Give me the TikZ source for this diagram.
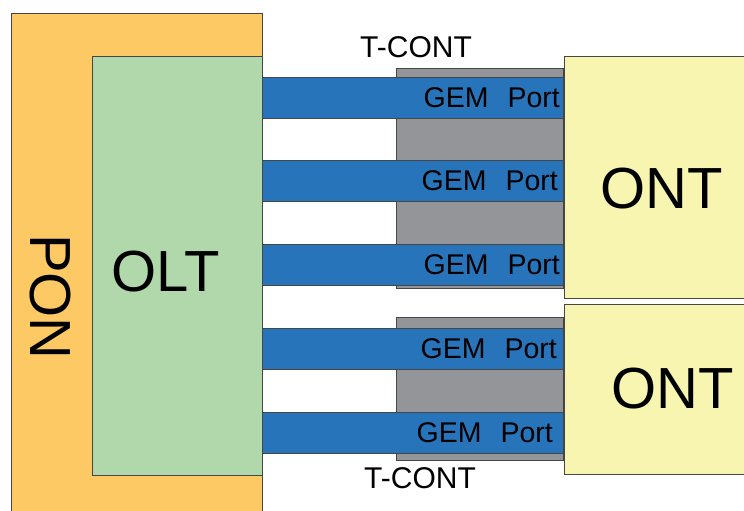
\documentclass[tikz,border=0pt]{standalone}
\usepackage{fontspec}
\setmainfont{Liberation Sans}
\definecolor{ponfill}{RGB}{252,201,101}
\definecolor{oltfill}{RGB}{176,216,170}
\definecolor{tcontfill}{RGB}{147,149,152}
\definecolor{gemfill}{RGB}{40,116,186}
\definecolor{ontfill}{RGB}{248,245,176}
\definecolor{edge}{RGB}{70,70,70}
\tikzset{
  blk/.style={draw=edge, line width=0.9pt, inner sep=0pt, anchor=north west},
  bigtxt/.style={font=\fontsize{58}{58}\selectfont, inner sep=0pt},
  tctxt/.style={font=\fontsize{30}{30}\selectfont, inner sep=0pt},
  midtxt/.style={font=\fontsize{28.5}{28.5}\selectfont, inner sep=0pt},
  gembar/.style={blk, fill=gemfill, minimum width=301pt, minimum height=41pt},
}
\newcommand{\gemlabel}{GEM\hspace{19pt}Port}
\begin{document}
\begin{tikzpicture}[x=1pt,y=-1pt]
\useasboundingbox (0,0) rectangle (744,511);
% PON and OLT blocks
\node[blk, fill=ponfill, minimum width=251pt, minimum height=502pt] (pon) at (11,13) {};
\node[blk, fill=oltfill, minimum width=170pt, minimum height=419pt] (olt) at (92,56) {};
% T-CONT containers
\node[blk, fill=tcontfill, minimum width=167pt, minimum height=220pt] (tc1) at (396,68) {};
\node[blk, fill=tcontfill, minimum width=167pt, minimum height=143pt] (tc2) at (396,317) {};
% GEM port bars
\node[gembar] (g1) at (262,77) {};
\node[gembar] (g2) at (262,160) {};
\node[gembar] (g3) at (262,244) {};
\node[gembar] (g4) at (262,328) {};
\node[gembar] (g5) at (262,412) {};
% ONT blocks
\node[blk, fill=ontfill, minimum width=184pt, minimum height=242pt] (ont1) at (564,56) {};
\node[blk, fill=ontfill, minimum width=184pt, minimum height=170pt] (ont2) at (564,304) {};
% labels
\node[bigtxt, rotate=-90] (ponlbl) at (50,297) {PON};
\node[bigtxt] (oltlbl) at (166,272) {OLT};
\node[bigtxt] (ont1lbl) at (662,189) {ONT};
\node[bigtxt] (ont2lbl) at (673,389) {ONT};
\node[tctxt] (tc1lbl) at (416,47.5) {T-CONT};
\node[tctxt] (tc2lbl) at (420,478.5) {T-CONT};
\node[midtxt, anchor=east] (g1lbl) at (560,97.5) {\gemlabel};
\node[midtxt, anchor=east] (g2lbl) at (558,180.5) {\gemlabel};
\node[midtxt, anchor=east] (g3lbl) at (560,264.5) {\gemlabel};
\node[midtxt, anchor=east] (g4lbl) at (557,348.5) {\gemlabel};
\node[midtxt, anchor=east] (g5lbl) at (553,432.5) {\gemlabel};
\end{tikzpicture}
\end{document}
